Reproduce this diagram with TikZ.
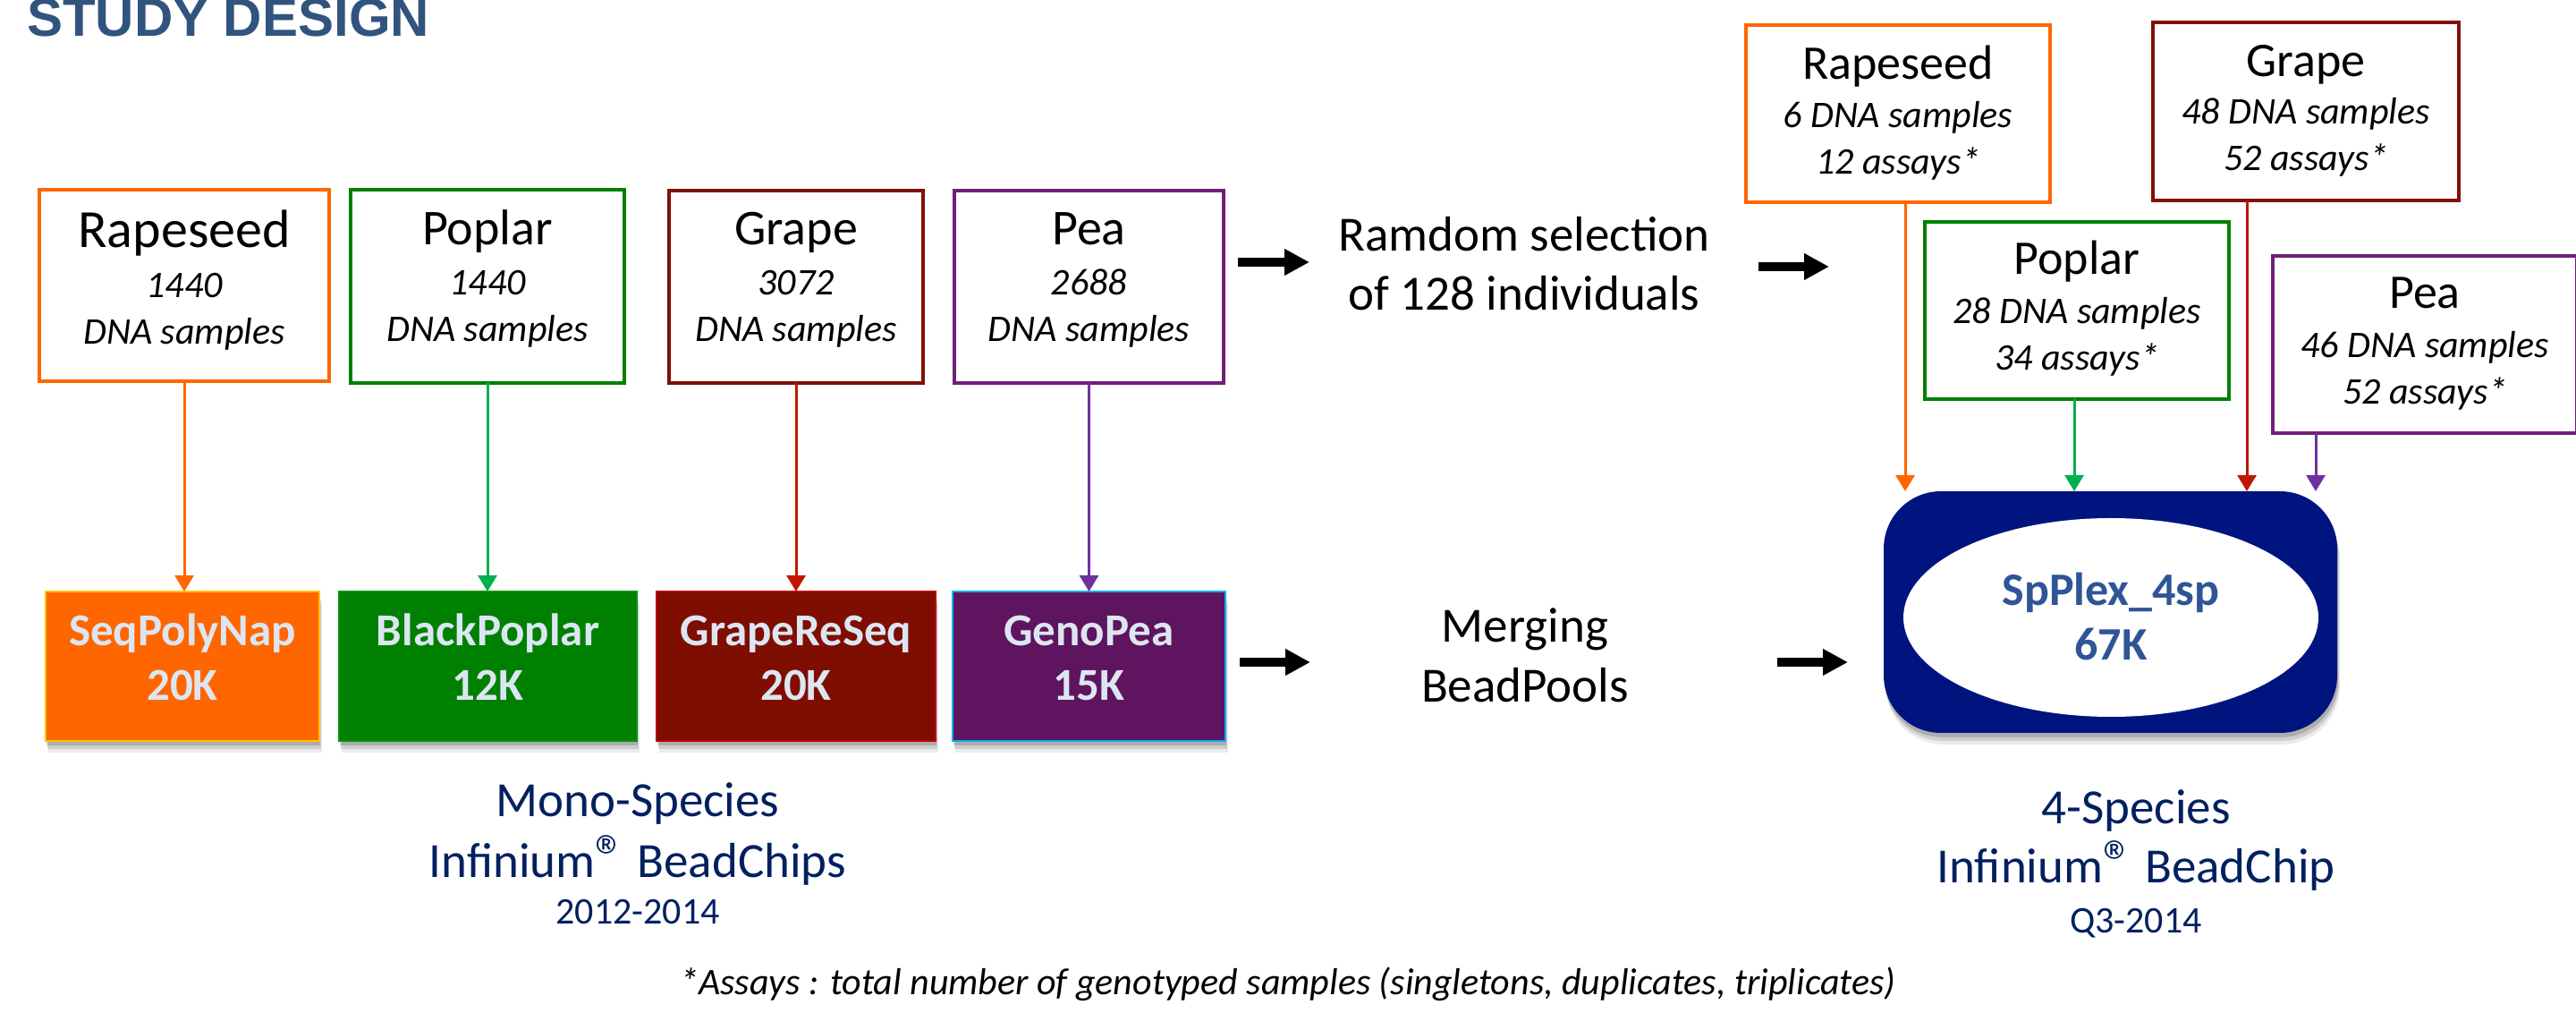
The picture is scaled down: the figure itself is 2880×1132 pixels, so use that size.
\documentclass[tikz,border=0pt]{standalone}
\usepackage{fontspec}
\setmainfont{Carlito}
\newfontfamily\titlefont{Liberation Sans}
\usetikzlibrary{arrows.meta,shapes.geometric,shadows}
\definecolor{titleblue}{RGB}{49,84,126}
\definecolor{corange}{RGB}{255,102,0}
\definecolor{cgreen}{RGB}{0,128,0}
\definecolor{cgarrow}{RGB}{0,176,80}
\definecolor{cgrape}{RGB}{128,16,8}
\definecolor{cgrapearrow}{RGB}{192,24,0}
\definecolor{cpea}{RGB}{112,32,120}
\definecolor{cpeaarrow}{RGB}{112,48,160}
\definecolor{fgrape}{RGB}{127,13,0}
\definecolor{fpea}{RGB}{95,20,95}
\definecolor{byellow}{RGB}{255,192,0}
\definecolor{bgreen}{RGB}{0,150,0}
\definecolor{bred}{RGB}{192,0,0}
\definecolor{bblue}{RGB}{0,176,240}
\definecolor{chiptxt}{RGB}{220,230,242}
\definecolor{spblue}{RGB}{0,20,128}
\definecolor{sptxt}{RGB}{47,85,151}
\definecolor{navy}{RGB}{0,32,96}
\newcommand\fsz[1]{\fontsize{#1pt}{#1pt}\selectfont}
\newcommand\regmark{{\fsz{17}®}}
\tikzset{
  softshadow/.style={
    drop shadow={shadow xshift=0.3pt,shadow yshift=-1.2pt,opacity=0.16,fill=black},
    drop shadow={shadow xshift=0.5pt,shadow yshift=-2.2pt,opacity=0.12,fill=black},
    drop shadow={shadow xshift=0.7pt,shadow yshift=-3.2pt,opacity=0.08,fill=black}},
  topbox/.style={draw=#1, line width=1pt, fill=white, rectangle},
  chipbox/.style 2 args={fill=#1, draw=#2, line width=0.6pt, rectangle, softshadow},
  lbl/.style={anchor=base},
  nmtxt/.style={lbl, font=\fsz{14}},
  nmrtxt/.style={lbl, font=\fsz{13.5}},
  itltxt/.style={lbl, font=\itshape\fsz{10.5}},
  chiptxtstyle/.style={lbl, font=\bfseries\fsz{12.75}, text=chiptxt},
  midtxt/.style={lbl, font=\fsz{13.75}},
  captxt/.style={lbl, font=\fsz{13.75}, text=navy},
  captxtsm/.style={lbl, font=\fsz{10.5}, text=navy},
  arrline/.style={line width=0.75pt, -{Triangle[width=5.25pt,length=4.5pt]}},
  bigarr/.style={line width=2.4pt, -{Triangle[width=7pt,length=7pt]}},
}
\begin{document}
\begin{tikzpicture}[x=0.25pt,y=-0.25pt, every node/.style={inner sep=0pt, outer sep=0pt}]
\useasboundingbox (0,0) rectangle (2880,1132);

% title
\node[anchor=base west, text=titleblue, font=\titlefont\bfseries\fsz{15}] (title) at (30,41) {STUDY DESIGN};

% top-left sample boxes
\node[topbox=corange, minimum width=81pt, minimum height=53.5pt] (r1) at (206,319) {};
\node[topbox=cgreen, minimum width=76.5pt, minimum height=54pt] (p1) at (545,320) {};
\node[topbox=cgrape, minimum width=71pt, minimum height=53.75pt] (g1) at (890,320.5) {};
\node[topbox=cpea, minimum width=75.25pt, minimum height=53.75pt] (e1) at (1217.5,320.5) {};

\node[lbl, font=\fsz{15}] (r1a) at (206,277) {Rapeseed};
\node[itltxt] (r1b) at (206,333) {1440};
\node[itltxt] (r1c) at (206,385) {DNA samples};
\node[nmtxt] (p1a) at (545,274) {Poplar};
\node[itltxt] (p1b) at (545,330) {1440};
\node[itltxt] (p1c) at (545,382) {DNA samples};
\node[nmtxt] (g1a) at (890,274) {Grape};
\node[itltxt] (g1b) at (890,330) {3072};
\node[itltxt] (g1c) at (890,382) {DNA samples};
\node[nmtxt] (e1a) at (1217.5,274) {Pea};
\node[itltxt] (e1b) at (1217.5,330) {2688};
\node[itltxt] (e1c) at (1217.5,382) {DNA samples};

% chip boxes
\node[chipbox={corange}{byellow}, minimum width=76.5pt, minimum height=41.75pt] (f1) at (204,744.5) {};
\node[chipbox={cgreen}{bgreen}, minimum width=83.25pt, minimum height=41.75pt] (f2) at (545.5,744.5) {};
\node[chipbox={fgrape}{bred}, minimum width=78pt, minimum height=41.75pt] (f3) at (890,744.5) {};
\node[chipbox={fpea}{bblue}, minimum width=76.25pt, minimum height=41.75pt] (f4) at (1217.5,744.5) {};

\node[chiptxtstyle] (f1a) at (204,722) {SeqPolyNap};
\node[chiptxtstyle] (f1b) at (204,783) {20K};
\node[chiptxtstyle] (f2a) at (545.5,722) {BlackPoplar};
\node[chiptxtstyle] (f2b) at (545.5,783) {12K};
\node[chiptxtstyle] (f3a) at (890,722) {GrapeReSeq};
\node[chiptxtstyle] (f3b) at (890,783) {20K};
\node[chiptxtstyle] (f4a) at (1217.5,722) {GenoPea};
\node[chiptxtstyle] (f4b) at (1217.5,783) {15K};

% arrows box -> chip
\draw[arrline, corange] (r1.south) -- (r1.south |- f1.north);
\draw[arrline, cgarrow] (p1.south) -- (p1.south |- f2.north);
\draw[arrline, cgrapearrow] (g1.south) -- (g1.south |- f3.north);
\draw[arrline, cpeaarrow] (e1.south) -- (e1.south |- f4.north);

% middle texts
\node[midtxt] (ms1) at (1704,281) {Ramdom selection};
\node[midtxt] (ms2) at (1704,347) {of 128 individuals};
\node[midtxt] (mm1) at (1705,718) {Merging};
\node[midtxt] (mm2) at (1705,785) {BeadPools};

% black arrows
\coordinate (a1s) at (1384,293); \coordinate (a1e) at (1464,293);
\coordinate (a2s) at (1966,298); \coordinate (a2e) at (2045,298);
\coordinate (a3s) at (1386,740); \coordinate (a3e) at (1465,740);
\coordinate (a4s) at (1987,740); \coordinate (a4e) at (2066,740);
\draw[bigarr] (a1s) -- (a1e);
\draw[bigarr] (a2s) -- (a2e);
\draw[bigarr] (a3s) -- (a3e);
\draw[bigarr] (a4s) -- (a4e);

% 4-species chip
\node[fill=spblue, rounded corners=16pt, minimum width=126.75pt, minimum height=67.5pt, softshadow] (sp) at (2359.5,684) {};
\node[ellipse, fill=white, minimum width=116pt, minimum height=55.5pt] (el) at (2360,690) {};
\node[lbl, font=\bfseries\fsz{13}, text=sptxt] (spa) at (2360,677) {SpPlex\_4sp};
\node[lbl, font=\bfseries\fsz{13}, text=sptxt] (spb) at (2360,738) {67K};

% right sample boxes
\node[topbox=corange, minimum width=85pt, minimum height=49.5pt] (rr) at (2122,127) {};
\node[topbox=cgrape, minimum width=85.5pt, minimum height=49.75pt] (gr) at (2578,124.5) {};
\node[topbox=cgreen, minimum width=85pt, minimum height=49.5pt] (pr) at (2322,347) {};
\node[topbox=cpea, minimum width=85pt, minimum height=49.5pt] (er) at (2711,385) {};

\node[nmrtxt] (rra) at (2122,89) {Rapeseed};
\node[itltxt] (rrb) at (2122,143) {6 DNA samples};
\node[itltxt] (rrc) at (2122,195) {12 assays*};
\node[nmrtxt] (gra) at (2578,86) {Grape};
\node[itltxt] (grb) at (2578,139) {48 DNA samples};
\node[itltxt] (grc) at (2578,191) {52 assays*};
\node[nmrtxt] (pra) at (2322,307) {Poplar};
\node[itltxt] (prb) at (2322,362) {28 DNA samples};
\node[itltxt] (prc) at (2322,414) {34 assays*};
\node[nmrtxt] (era) at (2711,345) {Pea};
\node[itltxt] (erb) at (2711,400) {46 DNA samples};
\node[itltxt] (erc) at (2711,452) {52 assays*};

\draw[arrline, corange] ([xshift=2pt]rr.south) -- ([xshift=2pt]rr.south |- sp.north);
\draw[arrline, cgarrow] ([xshift=-0.75pt]pr.south) -- ([xshift=-0.75pt]pr.south |- sp.north);
\draw[arrline, cgrapearrow] ([xshift=-16.5pt]gr.south) -- ([xshift=-16.5pt]gr.south |- sp.north);
\draw[arrline, cpeaarrow] ([xshift=-30.5pt]er.south) -- ([xshift=-30.5pt]er.south |- sp.north);

% captions
\node[captxt] (lc1) at (713,913) {Mono-Species};
\node[captxt] (lc2) at (713,980) {Infinium\regmark{} BeadChips};
\node[captxtsm] (lc3) at (713,1033) {2012-2014};
\node[captxt] (rc1) at (2388,920) {4-Species};
\node[captxt] (rc2) at (2388,987) {Infinium\regmark{} BeadChip};
\node[captxtsm] (rc3) at (2388,1042) {Q3-2014};

% footnote
\node[lbl, font=\itshape\fsz{10.5}] (foot) at (1440,1111) {*Assays : total number of genotyped samples (singletons, duplicates, triplicates)};
\end{tikzpicture}
\end{document}
